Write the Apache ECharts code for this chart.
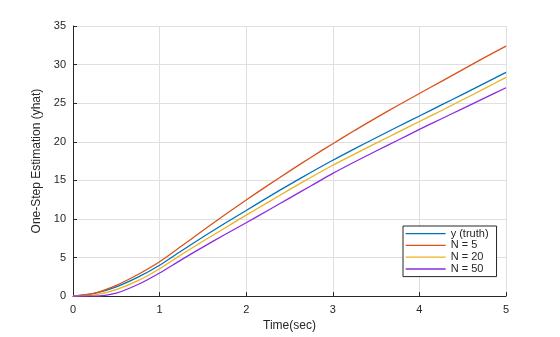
<!DOCTYPE html>
<html>
<head>
<meta charset="utf-8">
<script src="https://cdn.jsdelivr.net/npm/echarts@6/dist/echarts.min.js"></script>
<style>html,body{margin:0;padding:0;background:#fff}#c{width:560px;height:337px}</style>
</head>
<body>
<div id="c"></div>
<script>
const time = [0, 0.25, 0.5, 0.75, 1, 1.25, 1.5, 1.75, 2, 2.25, 2.5, 2.75, 3, 3.25, 3.5, 3.75, 4, 4.25, 4.5, 4.75, 5];
const yTruth = [0, 0.35, 1.2, 2.45, 4.0, 5.85, 7.65, 9.4, 11.1, 12.8, 14.45, 16.05, 17.6, 19.08, 20.52, 21.94, 23.34, 24.74, 26.14, 27.56, 29.0];
const yN5 = [0, 0.4, 1.4, 2.8, 4.45, 6.45, 8.5, 10.5, 12.45, 14.35, 16.2, 18.0, 19.75, 21.45, 23.1, 24.7, 26.25, 27.8, 29.35, 30.9, 32.4];
const yN20 = [0, 0.15, 0.85, 2.0, 3.55, 5.35, 7.1, 8.8, 10.5, 12.15, 13.8, 15.4, 16.95, 18.4, 19.82, 21.22, 22.62, 24.02, 25.44, 26.88, 28.35];
const yN50 = [0, 0, 0.4, 1.5, 3.0, 4.7, 6.35, 7.95, 9.5, 11.1, 12.7, 14.3, 15.9, 17.38, 18.8, 20.2, 21.6, 22.95, 24.3, 25.65, 27.0];
const seriesNames = ['y (truth)', 'N = 5', 'N = 20', 'N = 50'];
const xTicks = [0, 1, 2, 3, 4, 5];
const yTicks = [0, 5, 10, 15, 20, 25, 30, 35];

const colors = ['#0072BD', '#D95319', '#EDB120', '#8B2BE2'];
const allY = [yTruth, yN5, yN20, yN50];
const font = 'Liberation Sans, Arial, Helvetica, sans-serif';
const axisCol = '#262626';

const chart = echarts.init(document.getElementById('c'), null, {renderer: 'canvas'});
chart.setOption({
  animation: false,
  backgroundColor: '#fff',
  grid: {left: 73, right: 54, top: 26, bottom: 39, containLabel: false},
  xAxis: {
    type: 'value', min: xTicks[0], max: xTicks[xTicks.length - 1], interval: 1,
    name: 'Time(sec)', nameLocation: 'middle', nameGap: 23,
    nameTextStyle: {fontFamily: font, fontSize: 12, color: axisCol},
    axisLine: {show: true, onZero: false, lineStyle: {color: axisCol, width: 1}},
    axisTick: {show: true, inside: true, length: 4, lineStyle: {color: axisCol}},
    axisLabel: {fontFamily: font, fontSize: 11, color: axisCol, margin: 8},
    splitLine: {show: true, lineStyle: {color: '#dfdfdf', width: 1}}
  },
  yAxis: {
    type: 'value', min: yTicks[0], max: yTicks[yTicks.length - 1], interval: 5,
    name: 'One-Step Estimation (yhat)', nameLocation: 'middle', nameGap: 23,
    nameTextStyle: {fontFamily: font, fontSize: 12, color: axisCol},
    axisLine: {show: true, onZero: false, lineStyle: {color: axisCol, width: 1}},
    axisTick: {show: true, inside: true, length: 4, lineStyle: {color: axisCol}},
    axisLabel: {fontFamily: font, fontSize: 11, color: axisCol, margin: 7},
    splitLine: {show: true, lineStyle: {color: '#dfdfdf', width: 1}}
  },
  legend: {
    left: 403, top: 226, orient: 'vertical',
    data: seriesNames,
    itemWidth: 40, itemHeight: 14, itemGap: 0.6,
    padding: [2, 8, 2, 2],
    itemStyle: {opacity: 0},
    lineStyle: {width: 1.3},
    backgroundColor: '#fff', borderColor: axisCol, borderWidth: 1, borderRadius: 0,
    textStyle: {fontFamily: font, fontSize: 11, color: axisCol}
  },
  series: seriesNames.map((n, i) => ({
    name: n, type: 'line', symbol: 'none', showSymbol: false, smooth: 0.3,
    lineStyle: {color: colors[i], width: 1.3},
    itemStyle: {color: colors[i]},
    data: time.map((t, k) => [t, allY[i][k]])
  }))
});
</script>
</body>
</html>
